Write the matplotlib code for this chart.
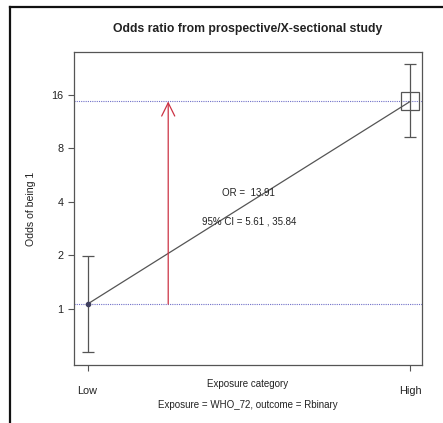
import matplotlib.pyplot as plt
from matplotlib.lines import Line2D

plt.rcParams['font.family'] = ['Liberation Sans', 'DejaVu Sans']

categories = ['Low', 'High']
odds = [1.06, 14.74]
ci_lower = [0.567, 9.3]
ci_upper = [1.98, 23.9]
odds_ratio = 13.91
or_ci = (5.61, 35.84)
y_ticks = [1, 2, 4, 8, 16]

grey = '#555555'
blue = '#7070c8'
red = '#cc3344'

fig = plt.figure(figsize=(4.43, 4.23), dpi=100)
ax = fig.add_axes([0.167, 0.137, 0.786, 0.740])
xc = 248 / 443  # centre of the plot region

x = [0, 1]
ax.set_yscale('log', base=2)

# reference lines at the two group odds
for v in odds:
    ax.axhline(v, color=blue, linestyle=(0, (1, 1)), linewidth=0.8, zorder=1)

ax.plot(x, odds, color=grey, linewidth=0.9, zorder=2)
ax.errorbar(x, odds, yerr=[[o - l for o, l in zip(odds, ci_lower)],
                          [u - o for o, u in zip(odds, ci_upper)]],
            fmt='none', ecolor=grey, elinewidth=0.9, capsize=4.5, capthick=0.9, zorder=3)
ax.plot(x[0], odds[0], 'o', color='#404060', markersize=3, zorder=4)
ax.plot(x[1], odds[1], 's', markerfacecolor='none', markeredgecolor=grey,
        markersize=13, markeredgewidth=0.9, zorder=4)

ax.annotate('', xy=(0.25, odds[1]), xytext=(0.25, odds[0]),
            arrowprops=dict(arrowstyle='->, head_length=0.95, head_width=0.47',
                            color=red, lw=0.9, shrinkA=0, shrinkB=0))

ax.text(0.5, 4.46, f'OR =  {odds_ratio}', ha='center', va='center', fontsize=7, color='#222222')
ax.text(0.5, 3.1, f'95% CI = {or_ci[0]} , {or_ci[1]}', ha='center', va='center',
        fontsize=7, color='#222222')

ax.set_xlim(-0.042, 1.037)
ax.set_ylim(0.48, 28.0)
ax.set_yticks(y_ticks)
ax.set_yticklabels([str(t) for t in y_ticks])
ax.minorticks_off()
ax.set_xticks(x)
ax.set_xticklabels(categories)
ax.tick_params(axis='both', colors=grey, labelcolor='#222222', labelsize=7.8, length=4, width=0.8)
ax.tick_params(axis='x', pad=11)
for s in ax.spines.values():
    s.set_color(grey)
    s.set_linewidth(0.9)

ax.set_ylabel('Odds of being 1', fontsize=7.6, color='#222222', labelpad=11)
fig.text(xc, 1 - 384 / 423, 'Exposure category', ha='center', va='center', fontsize=7, color='#222222')
fig.text(xc, 1 - 405 / 423, 'Exposure = WHO_72, outcome = Rbinary', ha='center', va='center',
         fontsize=7, color='#222222')
fig.text(xc, 1 - 29 / 423, 'Odds ratio from prospective/X-sectional study', ha='center', va='center',
         fontsize=8.8, fontweight='bold', color='#222222')

# partial frame visible in the reference
fig.add_artist(Line2D([10 / 443, 10 / 443], [0, 1 - 7 / 423], color='#111111', linewidth=1.6))
fig.add_artist(Line2D([10 / 443, 1], [1 - 7 / 423, 1 - 7 / 423], color='#111111', linewidth=1.6))

fig.savefig('out.png', dpi=100)
